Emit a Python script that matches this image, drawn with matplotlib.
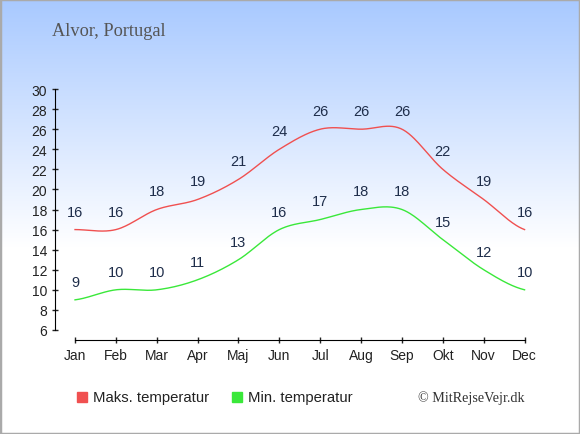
import numpy as np
import matplotlib.pyplot as plt
from matplotlib.patches import Rectangle

months = ["Jan", "Feb", "Mar", "Apr", "Maj", "Jun", "Jul", "Aug", "Sep", "Okt", "Nov", "Dec"]
max_temp = [16, 16, 18, 19, 21, 24, 26, 26, 26, 22, 19, 16]
min_temp = [9, 10, 10, 11, 13, 16, 17, 18, 18, 15, 12, 10]

RED = "#f05050"
GREEN = "#3ae83a"
LABEL = "#1e2d4a"


def smooth(y, n=30):
    # catmull-rom, only for drawing the curve between the real points
    y = np.asarray(y, float)
    p = np.concatenate([[y[0]], y, [y[-1]]])
    xs, ys = [], []
    for i in range(len(y) - 1):
        p0, p1, p2, p3 = p[i], p[i + 1], p[i + 2], p[i + 3]
        t = np.linspace(0, 1, n, endpoint=False)
        m1 = (p2 - p0) / 2
        m2 = (p3 - p1) / 2
        h00 = 2 * t**3 - 3 * t**2 + 1
        h10 = t**3 - 2 * t**2 + t
        h01 = -2 * t**3 + 3 * t**2
        h11 = t**3 - t**2
        xs.append(i + t)
        ys.append(h00 * p1 + h10 * m1 + h01 * p2 + h11 * m2)
    xs.append([len(y) - 1])
    ys.append([y[-1]])
    return np.concatenate(xs), np.concatenate(ys)


fig = plt.figure(figsize=(5.8, 4.35), dpi=100)

# background gradient
bg = fig.add_axes([0, 0, 1, 1], zorder=-1)
rows = np.linspace(0, 1, 435)
frac = np.clip(rows / 0.57, 0, 1)
top = np.array([168, 201, 255]) / 255
col = top[None, :] * (1 - frac[:, None]) + frac[:, None]
img = np.repeat(col[:, None, :], 2, axis=1)
bg.imshow(img, aspect="auto", extent=[0, 1, 0, 1])
bg.add_patch(Rectangle((0, 0), 1, 1, fill=False, ec="#aaaaaa", lw=2.5,
                       transform=bg.transAxes))
bg.set_xlim(0, 1); bg.set_ylim(0, 1)
bg.axis("off")

ax = fig.add_axes([55 / 580, 94 / 435, 490 / 580, 261 / 435])
ax.patch.set_alpha(0)
x = np.arange(len(months))
sx, sy = smooth(max_temp)
ax.plot(sx, sy, color=RED, lw=1)
sx, sy = smooth(min_temp)
ax.plot(sx, sy, color=GREEN, lw=1)

for i in range(len(months)):
    ax.annotate(str(max_temp[i]), (x[i], max_temp[i]), xytext=(0, 13),
                textcoords="offset points", ha="center", va="center",
                fontsize=10.5, color=LABEL, family="Liberation Sans")
    ax.annotate(str(min_temp[i]), (x[i], min_temp[i]), xytext=(0, 13),
                textcoords="offset points", ha="center", va="center",
                fontsize=10.5, color=LABEL, family="Liberation Sans")

ax.set_xlim(-0.49, 11.5)
ax.set_ylim(5.0, 31)
ax.set_xticks(x)
ax.set_xticklabels(months)
ax.set_yticks(range(6, 31, 2))
for s in ["top", "right"]:
    ax.spines[s].set_visible(False)
ax.spines["left"].set_bounds(6, 30)
ax.spines["bottom"].set_bounds(0, 11)
ax.tick_params(direction="inout", length=5, width=1, labelsize=10,
               colors="#222222", pad=3)
for lab in ax.get_xticklabels() + ax.get_yticklabels():
    lab.set_family("Liberation Sans")

fig.text(52 / 580, 1 - 31 / 435, "Alvor, Portugal", fontsize=13.2,
         color="#555555", family="Liberation Serif", va="center")

# legend row
fig.patches.append(Rectangle((77 / 580, 1 - 403 / 435), 10 / 580, 10 / 435,
                             color=RED, transform=fig.transFigure))
fig.text(93 / 580, 1 - 398 / 435, "Maks. temperatur", fontsize=10.7,
         family="Liberation Sans", color="#222222", va="center")
fig.patches.append(Rectangle((232 / 580, 1 - 403 / 435), 10 / 580, 10 / 435,
                             color=GREEN, transform=fig.transFigure))
fig.text(248 / 580, 1 - 398 / 435, "Min. temperatur", fontsize=10.7,
         family="Liberation Sans", color="#222222", va="center")
fig.text(525 / 580, 1 - 398 / 435, "© MitRejseVejr.dk", fontsize=10.2,
         family="Liberation Serif", color="#333333", va="center", ha="right")

fig.savefig("out.png", dpi=100)
